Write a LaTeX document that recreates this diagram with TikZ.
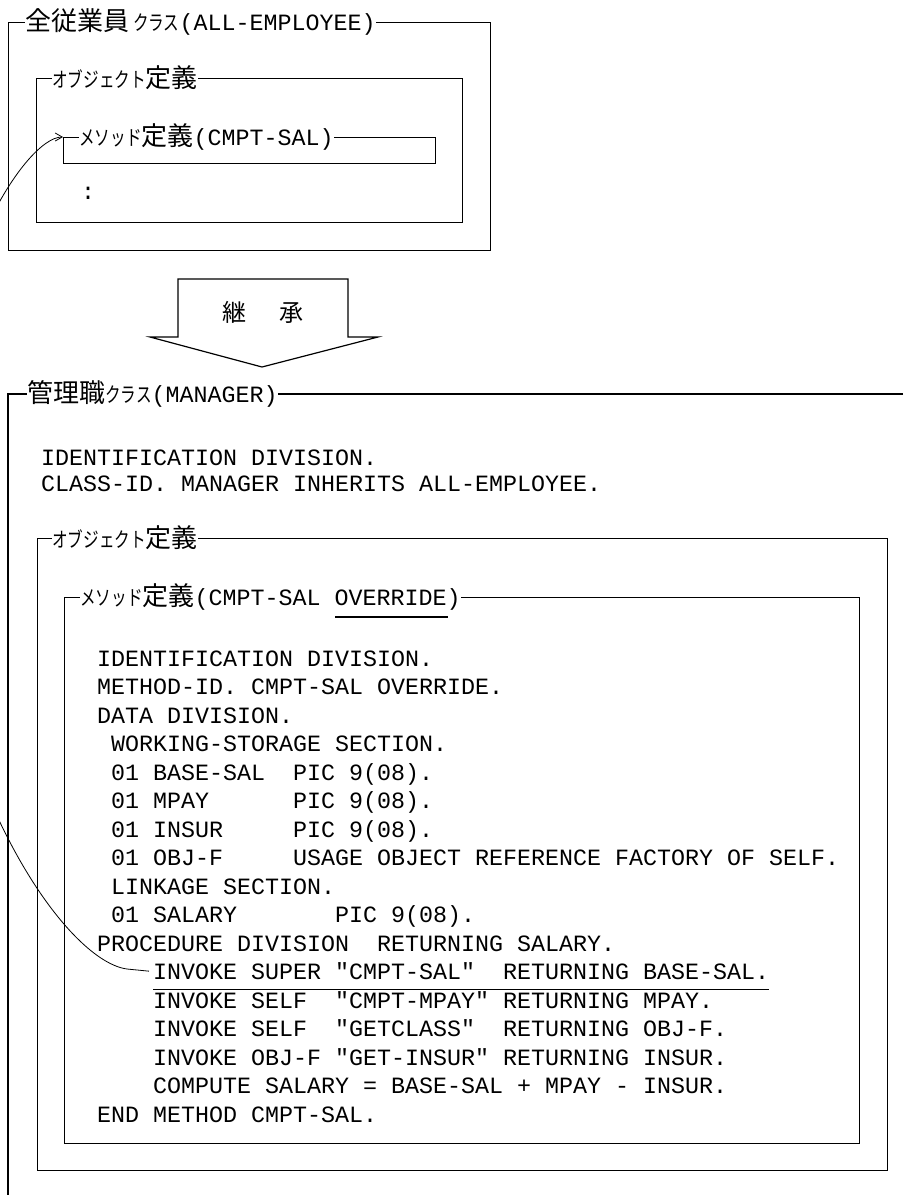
\documentclass[tikz,border=0pt]{standalone}
\usepackage{fontspec}
\usepackage{graphicx}
\usepackage{tikz}
\usetikzlibrary{arrows.meta}

\newfontfamily\codefont{Liberation Mono}
\newfontfamily\jpfont{Noto Sans CJK JP}
\newcommand{\kj}[1]{{\jpfont\fontsize{26}{28}\selectfont #1}}
\newcommand{\kn}[1]{\scalebox{0.6}[0.8]{\jpfont\fontsize{26}{28}\selectfont #1}}

\begin{document}
\begin{tikzpicture}[x=1pt, y=-1pt, >={Straight Barb[length=7pt, width=8pt]}]
\tikzstyle{frame} = [draw, rectangle, line width=1.2pt, inner sep=0pt, anchor=north west]
\tikzstyle{title} = [fill=white, inner sep=0pt, anchor=west, font=\codefont\fontsize{23.33}{28}\selectfont\frenchspacing]
\tikzstyle{code} = [inner sep=0pt, anchor=base west, font=\codefont\fontsize{23.33}{28}\selectfont\frenchspacing]
\tikzstyle{edge} = [line width=1.2pt]

\useasboundingbox (0,0) rectangle (903,1195);

% Class ALL-EMPLOYEE
\node [frame, minimum width=482pt, minimum height=228pt] (EMP_CLASS) at (8,22) {};
\node [frame, minimum width=426pt, minimum height=144pt] (EMP_OBJ) at (36,78) {};
\node [frame, minimum width=372pt, minimum height=26pt] (EMP_METH) at (63,137) {};
\node [title] (EMP_CLASS_T) at (25,22) {\kj{全従業員}\,\kn{クラス}(ALL-EMPLOYEE)\hspace{15pt}};
\node [title] (EMP_OBJ_T) at (52,78) {\kn{オブジェクト}\kj{定義}};
\node [title] (EMP_METH_T) at (79,137) {\kn{メソッド}\kj{定義}(CMPT-SAL)};
\node [code, anchor=center] (EMP_MORE) at (88,193) {:};

% Inheritance arrow
\draw [edge] (178,279) -- (348,279) -- (348,337) -- (378,337) -- (262,367) -- (150,337) -- (178,337) -- cycle;
\node (INHERIT) at (263,312) {\jpfont\fontsize{24}{24}\selectfont 継\hspace{34pt}承};

% Class MANAGER
\draw [edge] (903,394) -- (8,394) -- (8,1195);
\node [title] (MGR_CLASS_T) at (27,394) {\kj{管理職}\kn{クラス}(MANAGER)};
\node [code] (MGR_ID) at (41,465) {IDENTIFICATION DIVISION.};
\node [code] (MGR_INH) at (41,491) {CLASS-ID. MANAGER INHERITS ALL-EMPLOYEE.};

\node [frame, minimum width=850pt, minimum height=632pt] (MGR_OBJ) at (37,538) {};
\node [frame, minimum width=795pt, minimum height=546pt] (MGR_METH) at (64,597) {};
\node [title] (MGR_OBJ_T) at (52,538) {\kn{オブジェクト}\kj{定義}};
\node [title] (MGR_METH_T) at (80,597) {\kn{メソッド}\kj{定義}(CMPT-SAL OVERRIDE)\hspace{16pt}};
\draw [edge] (335,617) -- (448,617);

% Method body, one node per line
\foreach \c/\t [count=\i] in {
  0/IDENTIFICATION DIVISION.,
  0/METHOD-ID. CMPT-SAL OVERRIDE.,
  0/DATA DIVISION.,
  1/WORKING-STORAGE SECTION.,
  1/01 BASE-SAL~~PIC 9(08).,
  1/01 MPAY~~~~~~PIC 9(08).,
  1/01 INSUR~~~~~PIC 9(08).,
  1/01 OBJ-F~~~~~USAGE OBJECT REFERENCE FACTORY OF SELF.,
  1/LINKAGE SECTION.,
  1/01 SALARY~~~~~~~PIC 9(08).,
  0/PROCEDURE DIVISION~~RETURNING SALARY.,
  4/INVOKE SUPER "CMPT-SAL"~~RETURNING BASE-SAL.,
  4/INVOKE SELF~~"CMPT-MPAY" RETURNING MPAY.,
  4/INVOKE SELF~~"GETCLASS"~~RETURNING OBJ-F.,
  4/INVOKE OBJ-F "GET-INSUR" RETURNING INSUR.,
  4/COMPUTE SALARY = BASE-SAL + MPAY - INSUR.,
  0/END METHOD CMPT-SAL.}
  \node [code] (L\i) at ({97+14*\c}, {666+28.5*(\i-1)}) {\t};

\draw [edge] ([yshift=-10pt]L12.base west) -- ([yshift=-10pt]L12.base east);

% Call to the super class method
\begin{scope}
\clip (0,0) rectangle (903,1195);
\draw [line width=0.8pt, ->] ([xshift=-4pt]L12.west) -- (127,969) .. controls (60,960) and (-70,760) .. (-70,505) .. controls (-70,280) and (25,137) .. (EMP_METH.north west);
\end{scope}

\end{tikzpicture}
\end{document}
